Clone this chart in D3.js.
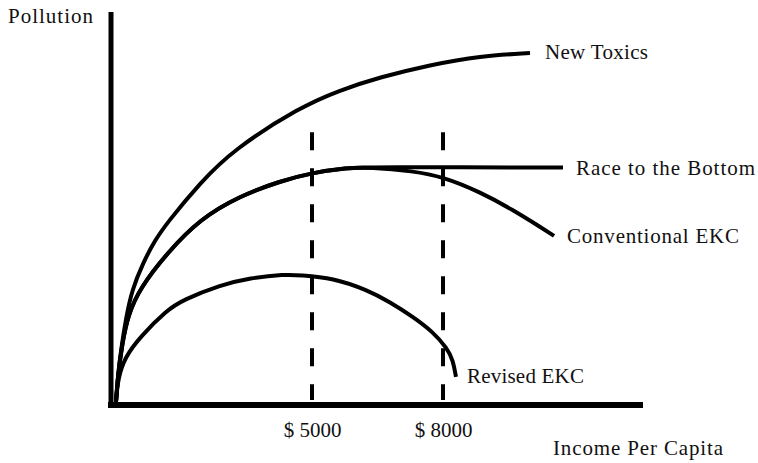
<!DOCTYPE html>
<html>
<head>
<meta charset="utf-8">
<script src="https://cdn.jsdelivr.net/npm/d3@7"></script>
<style>
  html, body { margin: 0; padding: 0; background: #fff; }
  svg { display: block; }
  text { font-family: "Liberation Serif", "Times New Roman", serif; fill: #111; }
</style>
</head>
<body>
<svg id="chart" width="758" height="463"></svg>
<script>
// ---- data (income per capita in $, pollution in relative units) ----
const newToxics = [
  [511, 0.8], [557, 8.3], [626, 15.3], [740, 24.2], [878, 32.0], [1130, 39.5],
  [1405, 45.8], [1680, 50.6], [2435, 61.7], [3191, 70.9], [4725, 82.8],
  [5641, 87.5], [6557, 91.1], [7702, 94.5], [8847, 97.0], [9992, 97.8]
];
const conventionalEKC = [
  [511, 0.8], [557, 8.3], [649, 16.7], [786, 25.0], [1061, 32.5], [1680, 42.2],
  [2435, 51.7], [3351, 58.1], [4267, 62.2], [5000, 64.5], [5801, 65.9],
  [6328, 66.1], [7313, 65.0], [8000, 63.4], [8847, 59.2], [9603, 54.2],
  [10222, 49.5], [10543, 47.0]
];
const raceToBottom = [
  [511, 0.8], [557, 8.3], [649, 16.7], [786, 25.0], [1061, 32.5], [1680, 42.2],
  [2435, 51.7], [3351, 58.1], [4267, 62.2], [5000, 64.5], [5801, 65.9],
  [6328, 66.1], [10748, 66.0]
];
const revisedEKC = [
  [511, 0.8], [557, 7.5], [717, 13.3], [1061, 18.9], [1680, 26.4], [2046, 29.2],
  [2893, 33.3], [3580, 35.3], [4382, 36.3], [4725, 36.1], [5481, 35.3],
  [6259, 32.0], [6786, 28.6], [7313, 24.5], [7771, 20.3], [8092, 15.8],
  [8229, 12.5], [8297, 7.8]
];
const seriesNames = ["New Toxics", "Race to the Bottom", "Conventional EKC", "Revised EKC"];
const thresholdIncomes = [5000, 8000];
const tickLabels = ["$ 5000", "$ 8000"];
const xTitle = "Income Per Capita";
const yTitle = "Pollution";
const incomeDomain = [374, 12580];
const pollutionDomain = [0, 109.2];
const thresholdTop = 75.8;
const thresholdBottom = 1.4;

// ---- drawing ----
const svg = d3.select("#chart");
const x = d3.scaleLinear().domain(incomeDomain).range([110, 643]);
const y = d3.scaleLinear().domain(pollutionDomain).range([405, 12]);

// axes lines
svg.append("line")
  .attr("x1", x.range()[0] - 2).attr("x2", x.range()[1])
  .attr("y1", y(0)).attr("y2", y(0))
  .attr("stroke", "#000").attr("stroke-width", 6);
svg.append("line")
  .attr("x1", x.range()[0] + 1).attr("x2", x.range()[0] + 1)
  .attr("y1", y.range()[1]).attr("y2", y(0) + 3)
  .attr("stroke", "#000").attr("stroke-width", 5);

// tick labels via d3 axis
const xAxis = d3.axisBottom(x)
  .tickValues(thresholdIncomes)
  .tickSize(0)
  .tickFormat((d, i) => tickLabels[i]);
const gx = svg.append("g").attr("transform", `translate(0,${y(0)})`).call(xAxis);
gx.select(".domain").remove();
gx.selectAll("text")
  .attr("y", 32).attr("dy", 0)
  .attr("font-size", 21)
  .style("font-family", "'Liberation Serif', serif")
  .attr("fill", "#111");

// dashed threshold lines
svg.selectAll("line.threshold")
  .data(thresholdIncomes)
  .join("line")
  .attr("class", "threshold")
  .attr("x1", d => x(d)).attr("x2", d => x(d))
  .attr("y1", y(thresholdTop)).attr("y2", y(thresholdBottom))
  .attr("stroke", "#000").attr("stroke-width", 4)
  .attr("stroke-dasharray", "18,18");

// curves
const line = d3.line()
  .x(d => x(d[0])).y(d => y(d[1]))
  .curve(d3.curveBasis);
const allSeries = [newToxics, raceToBottom, conventionalEKC, revisedEKC];
svg.selectAll("path.curve")
  .data(allSeries)
  .join("path")
  .attr("class", "curve")
  .attr("d", line)
  .attr("fill", "none")
  .attr("stroke", "#000")
  .attr("stroke-width", 4);

// series labels
const labelOffsets = [[15, 6], [13, 8], [13, 7], [11, 6]];
const labelWidths = { "New Toxics": 103, "Race to the Bottom": 179, "Conventional EKC": 172, "Revised EKC": 117 };
svg.selectAll("text.series")
  .data(allSeries)
  .join("text")
  .attr("class", "series")
  .attr("x", (d, i) => x(d[d.length - 1][0]) + labelOffsets[i][0])
  .attr("y", (d, i) => y(d[d.length - 1][1]) + labelOffsets[i][1])
  .attr("font-size", 21)
  .attr("textLength", (d, i) => labelWidths[seriesNames[i]])
  .attr("lengthAdjust", "spacing")
  .text((d, i) => seriesNames[i]);

// axis titles
svg.append("text")
  .attr("x", 8).attr("y", 23)
  .attr("font-size", 21)
  .attr("textLength", 85).attr("lengthAdjust", "spacing")
  .text(yTitle);
svg.append("text")
  .attr("x", 553).attr("y", 455)
  .attr("font-size", 21)
  .attr("textLength", 170).attr("lengthAdjust", "spacing")
  .text(xTitle);
</script>
</body>
</html>
